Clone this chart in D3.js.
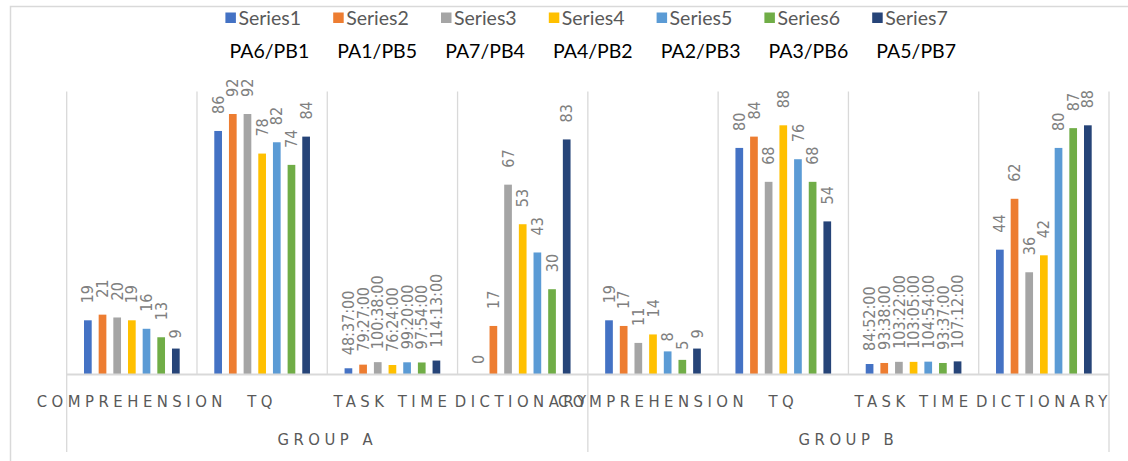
<!DOCTYPE html>
<html>
<head>
<meta charset="utf-8">
<script src="https://cdn.jsdelivr.net/npm/d3@7"></script>
<style>
  html, body { margin: 0; padding: 0; background: #ffffff; }
  svg { display: block; }
  .legend-text { font-family: Lato, "Open Sans", sans-serif; font-size: 19.5px; fill: #595959; }
  .pair-text { font-family: Lato, "Open Sans", sans-serif; font-size: 19.5px; fill: #000000; }
  .value-label { font-family: "Liberation Sans Narrow", "DejaVu Sans Condensed", sans-serif; font-size: 16px; fill: #808080; }
  .cat-label { font-family: "Liberation Sans Narrow", "DejaVu Sans Condensed", sans-serif; font-size: 16.5px; fill: #595959; letter-spacing: 4.5px; }
</style>
</head>
<body>
<svg id="chart" width="1128" height="461"></svg>
<script>
// Groups and the measures shown inside each group
const groups = ["GROUP A", "GROUP B"];
const measures = ["COMPREHENSION", "TQ", "TASK TIME", "DICTIONARY"];

// Series names and the participant pair each series stands for
const series = ["Series1", "Series2", "Series3", "Series4", "Series5", "Series6", "Series7"];
const pairs = ["PA6/PB1", "PA1/PB5", "PA7/PB4", "PA4/PB2", "PA2/PB3", "PA3/PB6", "PA5/PB7"];
const colors = ["#4472C4", "#ED7D31", "#A5A5A5", "#FFC000", "#5B9BD5", "#70AD47", "#264478"];

// Group A values, one per series
const comprehensionA = [19, 21, 20, 19, 16, 13, 9];
const tqA = [86, 92, 92, 78, 82, 74, 84];
const taskTimeA = ["48:37:00", "79:27:00", "100:38:00", "76:24:00", "99:20:00", "97:54:00", "114:13:00"];
const dictionaryA = [0, 17, 67, 53, 43, 30, 83];

// Group B values, one per series
const comprehensionB = [19, 17, 11, 14, 8, 5, 9];
const tqB = [80, 84, 68, 88, 76, 68, 54];
const taskTimeB = ["84:52:00", "93:38:00", "103:22:00", "103:05:00", "104:54:00", "93:37:00", "107:12:00"];
const dictionaryB = [44, 62, 36, 42, 80, 87, 88];

// Value axis range
const yDomain = [0, 100];

// A duration "h:mm:ss" is plotted as a fraction of a day, as a spreadsheet stores it
function durationToDays(s) {
  const [h, m, sec] = s.split(":").map(Number);
  return (h * 3600 + m * 60 + sec) / 86400;
}

function toRows(vals) {
  return vals.map(v => typeof v === "string"
    ? { value: durationToDays(v), label: v }
    : { value: v, label: String(v) });
}

const categories = [];
groups.forEach((g, gi) => {
  const sets = gi === 0
    ? [comprehensionA, tqA, taskTimeA, dictionaryA]
    : [comprehensionB, tqB, taskTimeB, dictionaryB];
  measures.forEach((m, mi) => {
    categories.push({ group: g, measure: m, rows: toRows(sets[mi]) });
  });
});

const svg = d3.select("#chart");

// Layout
const plot = { left: 66.7, right: 1109, top: 91.4, bottom: 374 };
const x0 = d3.scaleBand().domain(d3.range(categories.length)).range([plot.left, plot.right]);
const x1 = d3.scaleBand().domain(series).range([0, x0.bandwidth()]).paddingInner(0.475).paddingOuter(1.18);
const y = d3.scaleLinear().domain(yDomain).range([plot.bottom, plot.top]);

// Chart frame
svg.append("path")
  .attr("d", `M10.5,${461} V6.5 H1128`)
  .attr("fill", "none").attr("stroke", "#d9d9d9").attr("stroke-width", 1.5);

// Category separators
const bounds = d3.range(categories.length + 1).map(i => plot.left + i * x0.step());
svg.append("g").selectAll("line").data(bounds).join("line")
  .attr("x1", d => d).attr("x2", d => d)
  .attr("y1", plot.top).attr("y2", plot.bottom)
  .attr("stroke", "#d9d9d9").attr("stroke-width", 1.3);

// Group separators continue below the axis
const groupBounds = d3.range(groups.length + 1).map(i => plot.left + i * measures.length * x0.step());
svg.append("g").selectAll("line").data(groupBounds).join("line")
  .attr("x1", d => d).attr("x2", d => d)
  .attr("y1", plot.bottom).attr("y2", 452)
  .attr("stroke", "#d9d9d9").attr("stroke-width", 1.3);

// Bars
const catG = svg.append("g").selectAll("g").data(categories).join("g")
  .attr("transform", (d, i) => `translate(${x0(i)},0)`);

catG.selectAll("rect").data(d => d.rows.map((r, si) => ({ ...r, s: series[si], c: colors[si] })))
  .join("rect")
  .attr("x", d => x1(d.s))
  .attr("width", x1.bandwidth())
  .attr("y", d => y(d.value))
  .attr("height", d => y(0) - y(d.value))
  .attr("fill", d => d.c);

// Value labels, rotated to read upward
function labelGap(t) { return t.length <= 1 ? 10 : t.length === 2 ? 17 : 13; }
catG.selectAll("text").data(d => d.rows.map((r, si) => ({ ...r, s: series[si] })))
  .join("text")
  .attr("class", "value-label")
  .attr("transform", d => `translate(${x1(d.s) + x1.bandwidth() / 2},${y(d.value) - labelGap(d.label)}) rotate(-90)`)
  .attr("dy", "0.35em")
  .attr("text-anchor", "start")
  .text(d => d.label);

// Axis line
svg.append("line")
  .attr("x1", plot.left).attr("x2", plot.right)
  .attr("y1", plot.bottom + 0.5).attr("y2", plot.bottom + 0.5)
  .attr("stroke", "#d9d9d9").attr("stroke-width", 2);

// Category labels
svg.append("g").selectAll("text").data(categories).join("text")
  .attr("class", "cat-label")
  .attr("x", (d, i) => x0(i) + x0.bandwidth() / 2)
  .attr("y", 407)
  .attr("text-anchor", "middle")
  .text(d => d.measure);

// Group labels
svg.append("g").selectAll("text").data(groups).join("text")
  .attr("class", "cat-label")
  .attr("x", (d, i) => (groupBounds[i] + groupBounds[i + 1]) / 2)
  .attr("y", 445)
  .attr("text-anchor", "middle")
  .text(d => d);

// Legend
const legendX = d3.scaleLinear().domain([0, series.length]).range([225.4, 225.4 + 107.8 * series.length]);
const leg = svg.append("g").selectAll("g").data(series).join("g")
  .attr("transform", (d, i) => `translate(${legendX(i)},0)`);
leg.append("rect").attr("x", 0).attr("y", 12.5).attr("width", 10.5).attr("height", 10.5)
  .attr("fill", (d, i) => colors[i]);
leg.append("text").attr("class", "legend-text").attr("x", 13).attr("y", 24.5).text(d => d);

// Participant pairs under each legend entry
svg.append("g").selectAll("text").data(pairs).join("text")
  .attr("class", "pair-text")
  .attr("x", (d, i) => legendX(i) + 44)
  .attr("y", 58)
  .attr("text-anchor", "middle")
  .text(d => d);
</script>
</body>
</html>
